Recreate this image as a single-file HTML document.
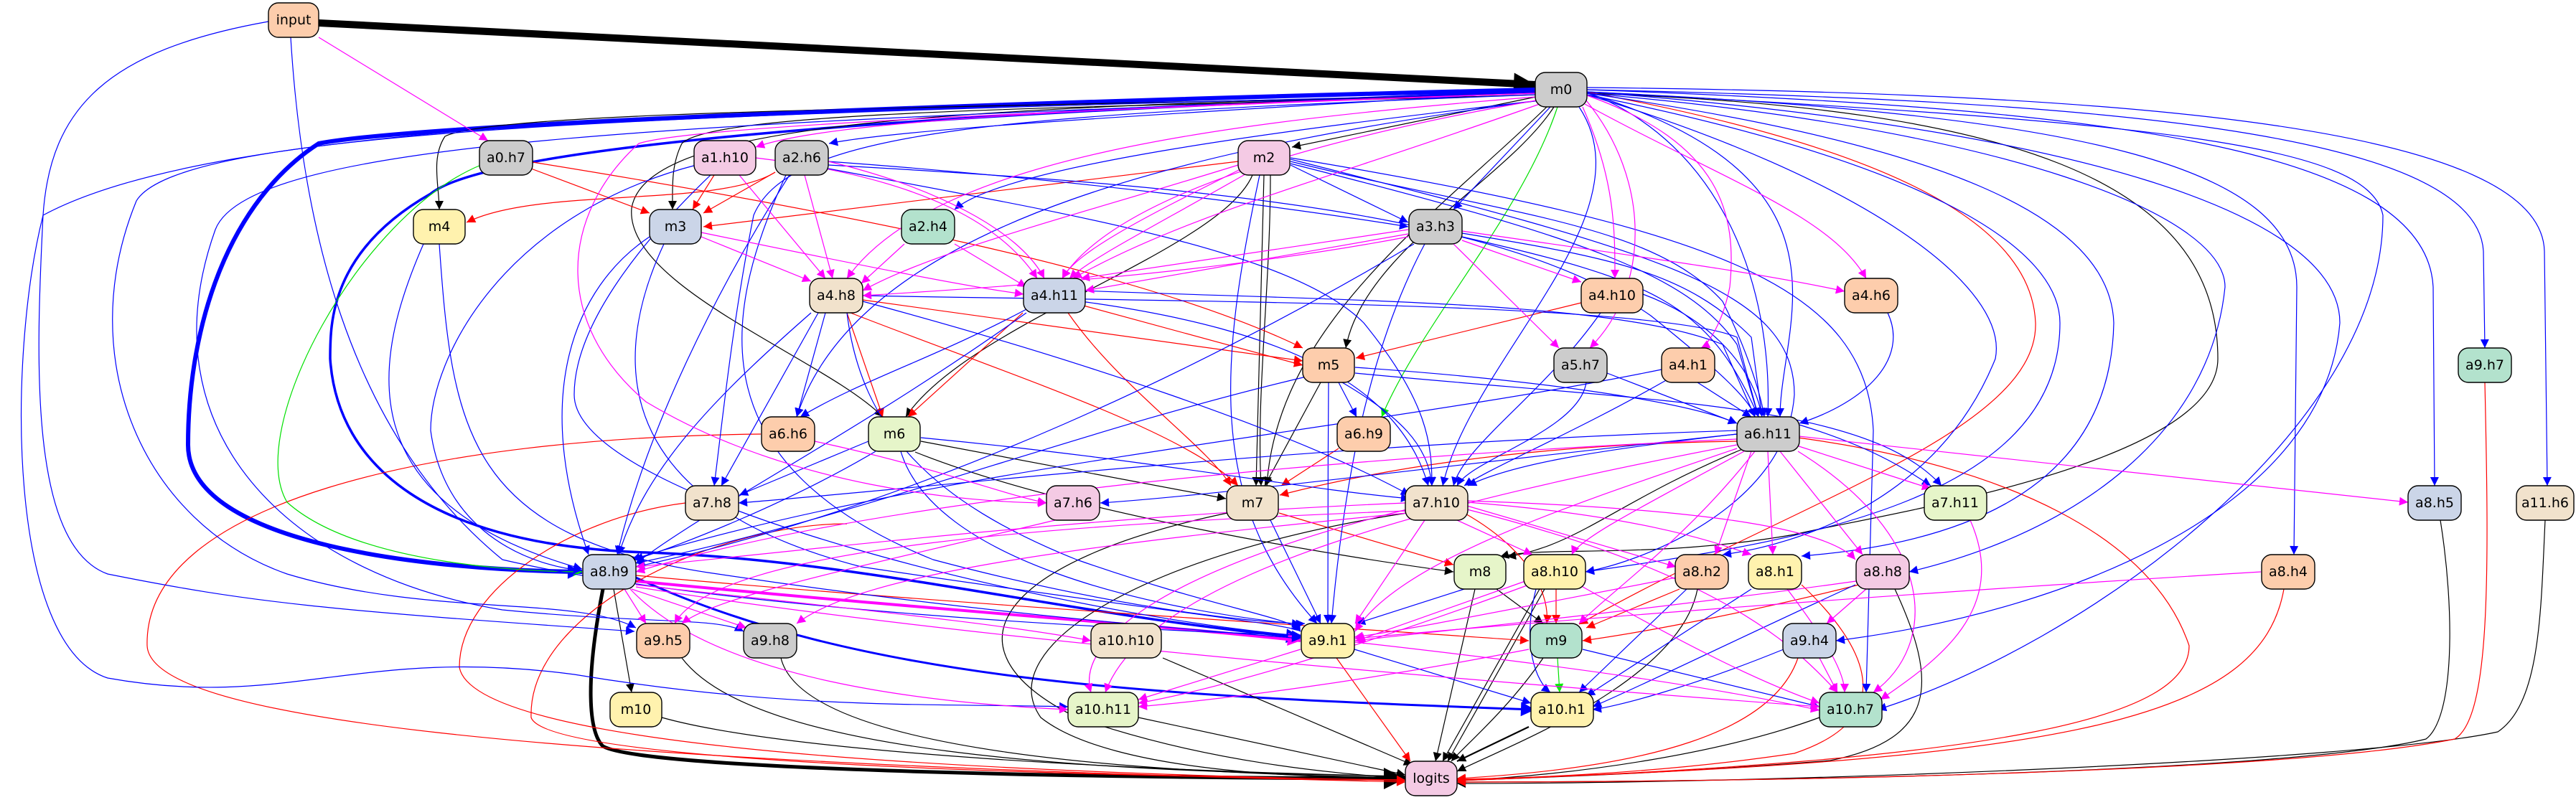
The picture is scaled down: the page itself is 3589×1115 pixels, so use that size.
<!DOCTYPE html>
<html><head><meta charset="utf-8"><style>
html,body{margin:0;padding:0;background:#fff;}
svg{display:block;}
text{font-family:"DejaVu Sans","Liberation Sans",sans-serif;font-size:19px;fill:#000;text-anchor:middle;dominant-baseline:central;}
.n{stroke:#000;stroke-width:1.4;}
path{fill:none;stroke-width:1.2;}
.k{stroke:#000;marker-end:url(#ak);}
.b{stroke:#0000ff;marker-end:url(#ab);}
.r{stroke:#ff0000;marker-end:url(#ar);}
.m{stroke:#ff00ff;marker-end:url(#am);}
.g{stroke:#00e000;marker-end:url(#ag);}
</style></head><body>
<svg width="3589" height="1115" viewBox="0 0 3589 1115" xmlns="http://www.w3.org/2000/svg">
<defs>
<marker id="ak" markerUnits="userSpaceOnUse" markerWidth="16" markerHeight="12" viewBox="0 0 10 10" refX="10" refY="5" orient="auto"><path d="M0,0L10,5L0,10z" style="fill:#000;stroke:none"/></marker>
<marker id="ab" markerUnits="userSpaceOnUse" markerWidth="16" markerHeight="12" viewBox="0 0 10 10" refX="10" refY="5" orient="auto"><path d="M0,0L10,5L0,10z" style="fill:#00f;stroke:none"/></marker>
<marker id="ar" markerUnits="userSpaceOnUse" markerWidth="16" markerHeight="12" viewBox="0 0 10 10" refX="10" refY="5" orient="auto"><path d="M0,0L10,5L0,10z" style="fill:#f00;stroke:none"/></marker>
<marker id="am" markerUnits="userSpaceOnUse" markerWidth="16" markerHeight="12" viewBox="0 0 10 10" refX="10" refY="5" orient="auto"><path d="M0,0L10,5L0,10z" style="fill:#f0f;stroke:none"/></marker>
<marker id="ag" markerUnits="userSpaceOnUse" markerWidth="16" markerHeight="12" viewBox="0 0 10 10" refX="10" refY="5" orient="auto"><path d="M0,0L10,5L0,10z" style="fill:#0e0;stroke:none"/></marker>
<marker id="akB" markerUnits="userSpaceOnUse" markerWidth="34" markerHeight="30" viewBox="0 0 10 10" refX="10" refY="5" orient="auto"><path d="M0,0L10,5L0,10z" style="fill:#000;stroke:none"/></marker>
<marker id="abB" markerUnits="userSpaceOnUse" markerWidth="24" markerHeight="20" viewBox="0 0 10 10" refX="10" refY="5" orient="auto"><path d="M0,0L10,5L0,10z" style="fill:#00f;stroke:none"/></marker>
<marker id="amB" markerUnits="userSpaceOnUse" markerWidth="22" markerHeight="18" viewBox="0 0 10 10" refX="10" refY="5" orient="auto"><path d="M0,0L10,5L0,10z" style="fill:#f0f;stroke:none"/></marker>
</defs>

<!-- thick edges -->
<path d="M444,32 L2139,118" style="stroke:#000;stroke-width:10;marker-end:url(#akB)"/>
<path d="M2139,125 C1500,140 600,170 444,200 C320,280 262,450 262,620 C262,760 600,795 811,797" style="stroke:#00f;stroke-width:6;marker-end:url(#abB)"/>
<path d="M2139,128 C1500,150 700,190 600,270 C460,350 460,450 460,500 C470,650 600,760 900,770 C1200,780 1500,860 1812,888" style="stroke:#00f;stroke-width:3.5;marker-end:url(#abB)"/>
<path d="M840,821 C815,950 820,1020 840,1040 C900,1075 1600,1085 1958,1085" style="stroke:#000;stroke-width:5;marker-end:url(#akB)"/>
<path d="M886,805 C1200,950 1600,970 2139,989" style="stroke:#00f;stroke-width:3;marker-end:url(#abB)"/>
<path d="M886,810 C1300,850 1600,870 1812,893" style="stroke:#f0f;stroke-width:4;marker-end:url(#amB)"/>
<path class="k" d="M2130,1013 L2030,1061" style="stroke-width:2.2"/>

<!-- black -->
<path class="k" d="M2140,135 L1800,205"/>
<path class="k" d="M2140,130 C1500,150 700,150 620,190 C600,220 612,260 612,292"/>
<path class="k" d="M2140,132 C1600,150 1000,150 950,200 C935,230 937,260 937,292"/>
<path class="k" d="M2165,149 C2100,250 1900,350 1875,485"/>
<path class="k" d="M2140,130 C1300,150 900,170 880,290 C870,400 1150,500 1230,581"/>
<path class="k" d="M2155,149 C2000,300 1780,450 1765,677"/>
<path class="k" d="M2210,130 C2800,150 3090,250 3090,500 C3090,650 2600,720 2500,745 C2300,780 2150,760 2090,776"/>
<path class="k" d="M1745,244 C1700,350 1350,450 1262,581"/>
<path class="k" d="M1761,244 L1750,677"/>
<path class="k" d="M1770,244 C1770,400 1750,550 1757,677"/>
<path class="k" d="M1840,533 L1762,677"/>
<path class="k" d="M1283,615 L1708,695"/>
<path class="k" d="M1275,630 C1500,720 1900,780 2025,797"/>
<path class="k" d="M1710,715 C1400,780 1300,900 1500,1000 C1700,1070 1900,1080 1958,1085"/>
<path class="k" d="M1960,715 C1600,770 1380,900 1450,1000 C1550,1080 1850,1085 1958,1083"/>
<path class="k" d="M2055,821 L2000,1061"/>
<path class="k" d="M2085,821 L2150,869"/>
<path class="k" d="M2145,821 L2010,1061"/>
<path class="k" d="M2152,821 L2017,1061"/>
<path class="k" d="M2365,821 C2340,950 2100,1040 2030,1075"/>
<path class="k" d="M2150,917 C2100,990 2040,1040 2022,1061"/>
<path class="k" d="M1620,917 L1968,1066"/>
<path class="k" d="M1586,1000 L1958,1080"/>
<path class="k" d="M2640,821 C2700,950 2700,1030 2550,1060 C2300,1080 2100,1085 2030,1088"/>
<path class="k" d="M2535,1000 C2400,1050 2200,1080 2030,1088"/>
<path class="k" d="M3400,725 C3420,850 3420,1000 3380,1030 C3200,1075 2500,1090 2030,1090"/>
<path class="k" d="M3546,725 C3540,850 3540,980 3480,1020 C3300,1060 2500,1092 2030,1092"/>
<path class="k" d="M922,1000 C1100,1050 1600,1075 1958,1082"/>
<path class="k" d="M950,917 C1050,1050 1500,1075 1958,1082"/>
<path class="k" d="M1088,917 C1120,1050 1600,1078 1958,1084"/>
<path class="k" d="M855,821 L880,965"/>
<path class="k" d="M2430,625 C2250,700 2200,760 2100,776"/>

<!-- red -->
<path class="r" d="M740,235 L905,297"/>
<path class="r" d="M742,226 C1200,300 1600,380 1815,485"/>
<path class="r" d="M995,244 L965,292"/>
<path class="r" d="M1080,240 L980,297"/>
<path class="r" d="M1080,240 C1000,290 750,260 650,310"/>
<path class="r" d="M1725,225 L980,316"/>
<path class="r" d="M1202,418 L1815,503"/>
<path class="r" d="M1506,425 L1815,509"/>
<path class="r" d="M2203,422 L1889,499"/>
<path class="r" d="M1180,436 L1230,581"/>
<path class="r" d="M1425,436 L1265,581"/>
<path class="r" d="M1185,436 C1400,520 1650,600 1725,677"/>
<path class="r" d="M1488,436 C1560,540 1680,620 1715,677"/>
<path class="r" d="M1865,625 L1785,677"/>
<path class="r" d="M2420,615 C2100,620 1900,660 1783,690"/>
<path class="r" d="M1782,715 L2025,787"/>
<path class="r" d="M1060,605 C600,610 200,700 205,900 C210,1000 700,1060 1958,1090"/>
<path class="r" d="M955,701 C800,720 640,820 640,930 C660,1040 1300,1075 1958,1088"/>
<path class="r" d="M1180,730 C1000,730 735,850 740,1000 C760,1060 1400,1080 1958,1087"/>
<path class="r" d="M1862,917 L1965,1061"/>
<path class="r" d="M886,802 C1300,840 1800,870 2130,893"/>
<path class="r" d="M2040,715 C2120,760 2160,820 2155,869"/>
<path class="r" d="M2168,821 L2168,869"/>
<path class="r" d="M2340,821 L2210,875"/>
<path class="r" d="M2590,815 C2450,850 2300,880 2205,893"/>
<path class="r" d="M2505,610 C2800,650 3000,750 3050,900 C3050,1000 2800,1060 2030,1088"/>
<path class="r" d="M2510,815 C2600,900 2650,1000 2500,1050 C2300,1080 2100,1085 2030,1086"/>
<path class="r" d="M3182,821 C3150,1000 2900,1060 2030,1087"/>
<path class="r" d="M3462,533 C3468,800 3470,1000 3420,1030 C3200,1075 2500,1090 2030,1090"/>
<path class="r" d="M2505,917 C2470,1020 2300,1070 2030,1085"/>
<path class="r" d="M2210,128 C2600,200 2830,300 2836,450 C2840,600 2500,700 2200,870"/>

<!-- green -->
<path class="g" d="M670,230 C500,300 340,600 400,700 C500,790 750,797 811,797"/>
<path class="g" d="M2170,149 C2120,300 1980,450 1925,581"/>
<path class="g" d="M2170,917 L2173,965"/>

<!-- blue -->
<path class="b" d="M374,30 C150,70 70,150 60,300 C50,500 40,760 150,800 C350,840 450,850 884,880"/>
<path class="b" d="M405,52 C420,300 480,600 700,780 C1000,850 1600,880 1812,885"/>
<path class="b" d="M2140,128 C1000,150 300,170 60,300 C10,500 10,900 150,945 C400,990 500,900 800,940 C1100,990 1300,980 1488,985"/>
<path class="b" d="M2140,130 C900,160 250,180 190,280 C100,500 200,730 400,800 C600,860 800,830 886,875"/>
<path class="b" d="M2140,130 C1000,170 350,190 300,320 C200,600 400,800 700,850 C900,870 1000,860 1036,880"/>
<path class="b" d="M2140,132 C1400,160 1100,180 1050,300 C1020,450 1005,600 995,677"/>
<path class="b" d="M2145,140 C1700,200 1200,300 1110,581"/>
<path class="b" d="M2140,128 C1600,160 1250,180 1155,200"/>
<path class="b" d="M2145,140 C1800,180 1400,230 1330,292"/>
<path class="b" d="M2160,149 L2025,292"/>
<path class="b" d="M2210,128 C2400,200 2470,400 2463,581"/>
<path class="b" d="M2212,130 C2600,250 2480,450 2480,581"/>
<path class="b" d="M2200,149 C2300,300 2050,500 2010,677"/>
<path class="b" d="M2211,125 C2900,150 3380,200 3390,400 L3392,677"/>
<path class="b" d="M2211,125 C2900,140 3450,180 3460,350 L3462,485"/>
<path class="b" d="M2211,122 C3000,130 3540,180 3545,350 L3549,677"/>
<path class="b" d="M2211,128 C2900,160 3200,230 3200,400 L3196,773"/>
<path class="b" d="M2211,128 C3000,170 3300,200 3320,300 C3320,600 2900,900 2616,989"/>
<path class="b" d="M2211,128 C2900,180 3260,300 3260,450 C3240,700 2900,850 2558,893"/>
<path class="b" d="M2211,130 C2800,180 3100,300 3100,400 C3080,600 2900,740 2660,797"/>
<path class="b" d="M2211,130 C2700,200 2940,300 2945,450 C2940,700 2700,760 2510,775"/>
<path class="b" d="M2211,132 C2700,230 2870,350 2870,450 C2870,700 2500,755 2209,797"/>
<path class="b" d="M2211,132 C2600,250 2800,400 2780,500 C2700,700 2500,760 2400,773"/>
<path class="b" d="M1888,520 C2300,560 2600,560 2705,677"/>
<path class="b" d="M970,230 C700,300 600,500 600,600 C620,750 750,790 811,795"/>
<path class="b" d="M990,244 C900,330 800,450 800,550 C800,700 1500,860 1812,886"/>
<path class="b" d="M1100,244 C1000,400 900,600 860,773"/>
<path class="b" d="M1095,244 C1000,450 980,650 1300,780 C1600,860 1800,870 1818,869"/>
<path class="b" d="M1154,225 C1500,250 1800,290 1962,316"/>
<path class="b" d="M1154,230 C1700,260 2100,300 2300,440 C2400,520 2440,560 2445,581"/>
<path class="b" d="M1154,235 C1500,300 1800,350 1900,450 C1990,560 1995,620 1995,677"/>
<path class="b" d="M1798,230 L1962,310"/>
<path class="b" d="M1798,225 C2100,300 2300,310 2400,420 C2440,500 2455,560 2458,581"/>
<path class="b" d="M1798,228 C2200,330 2350,380 2420,480 L2450,581"/>
<path class="b" d="M1798,222 C2300,350 2500,400 2500,550 C2490,700 2300,780 2209,797"/>
<path class="b" d="M1798,220 C2400,320 2600,400 2610,600 L2600,965"/>
<path class="b" d="M1755,244 C1700,500 1680,700 1835,869"/>
<path class="b" d="M590,340 C520,500 480,700 811,793"/>
<path class="b" d="M612,340 C630,600 650,750 1000,800 C1400,860 1700,880 1812,890"/>
<path class="b" d="M905,330 C800,400 740,550 820,773"/>
<path class="b" d="M925,340 C850,500 850,700 1200,790 C1600,850 1800,870 1812,880"/>
<path class="b" d="M2037,325 C2250,360 2350,380 2440,470 L2455,581"/>
<path class="b" d="M2037,330 C2300,390 2380,420 2450,581"/>
<path class="b" d="M1970,340 C1700,500 1300,700 886,790"/>
<path class="b" d="M1985,340 C1900,500 1870,700 1855,869"/>
<path class="b" d="M1150,436 L1110,581"/>
<path class="b" d="M1140,436 L1005,677"/>
<path class="b" d="M1130,436 C1000,550 900,650 862,773"/>
<path class="b" d="M1202,412 C1600,420 2300,420 2420,470 L2450,581"/>
<path class="b" d="M1202,420 C1500,500 1800,600 1964,690"/>
<path class="b" d="M1180,436 C1200,600 1300,700 1500,780 C1700,850 1800,860 1812,880"/>
<path class="b" d="M1432,430 C1300,500 1200,530 1115,581"/>
<path class="b" d="M1506,405 C1900,420 2250,420 2400,480 L2445,581"/>
<path class="b" d="M1430,436 C1200,600 1000,700 886,785"/>
<path class="b" d="M1506,420 C1800,460 1950,540 1990,677"/>
<path class="b" d="M2289,410 C2370,440 2440,500 2455,581"/>
<path class="b" d="M2230,436 C2150,550 2040,620 2025,677"/>
<path class="b" d="M2630,436 C2660,500 2600,560 2507,590"/>
<path class="b" d="M1865,533 L1890,581"/>
<path class="b" d="M1888,512 C2150,530 2350,560 2420,590"/>
<path class="b" d="M1870,533 C1950,580 1990,620 1995,677"/>
<path class="b" d="M1851,533 C1850,650 1850,800 1850,869"/>
<path class="b" d="M1820,525 C1500,600 1200,720 886,785"/>
<path class="b" d="M2239,520 L2420,590"/>
<path class="b" d="M2210,533 C2200,600 2050,640 2030,677"/>
<path class="b" d="M2365,533 L2440,581"/>
<path class="b" d="M2330,525 C2200,600 2080,650 2040,677"/>
<path class="b" d="M2315,515 C1900,600 1300,650 880,780"/>
<path class="b" d="M1210,615 L1030,690"/>
<path class="b" d="M1283,610 C1600,640 1800,680 1964,695"/>
<path class="b" d="M1220,629 C1100,700 950,760 884,780"/>
<path class="b" d="M1255,629 C1300,780 1600,850 1812,870"/>
<path class="b" d="M2420,605 C2200,630 2100,650 2045,677"/>
<path class="b" d="M2500,590 C2600,620 2650,650 2690,677"/>
<path class="b" d="M2420,605 C2000,650 1700,690 1533,701"/>
<path class="b" d="M2420,600 C1800,620 1300,680 1029,701"/>
<path class="b" d="M1770,725 L1840,869"/>
<path class="b" d="M2040,821 L1890,869"/>
<path class="b" d="M2140,821 C2120,900 2140,950 2160,965"/>
<path class="b" d="M2350,821 L2200,965"/>
<path class="b" d="M2440,821 L2210,970"/>
<path class="b" d="M2585,815 C2400,900 2300,950 2219,985"/>
<path class="b" d="M1887,905 L2133,980"/>
<path class="b" d="M2205,905 L2535,985"/>
<path class="b" d="M2485,905 C2350,960 2250,985 2219,989"/>

<!-- magenta -->
<path class="m" d="M444,52 L680,196"/>
<path class="m" d="M2140,130 C1500,150 1150,170 1053,205"/>
<path class="m" d="M2140,130 C1300,160 950,180 890,200 C780,300 770,450 900,560 C1100,680 1350,700 1458,701"/>
<path class="m" d="M2140,135 C1700,170 1300,220 1180,388"/>
<path class="m" d="M2140,140 C1800,200 1550,280 1480,388"/>
<path class="m" d="M2145,145 C1850,250 1650,300 1495,388"/>
<path class="m" d="M2205,149 C2250,250 2250,320 2250,388"/>
<path class="m" d="M2208,145 C2400,250 2550,300 2600,388"/>
<path class="m" d="M2210,140 C2300,250 2300,400 2215,485"/>
<path class="m" d="M2211,133 C2400,200 2420,300 2410,400 C2400,450 2380,480 2370,485"/>
<path class="m" d="M1030,244 L1150,388"/>
<path class="m" d="M1053,220 C1300,250 1400,320 1445,388"/>
<path class="m" d="M1121,244 L1160,388"/>
<path class="m" d="M1154,225 C1300,260 1420,320 1455,388"/>
<path class="m" d="M1725,230 C1500,300 1300,350 1202,405"/>
<path class="m" d="M1730,235 C1600,300 1500,350 1480,388"/>
<path class="m" d="M1740,240 C1600,320 1520,360 1490,388"/>
<path class="m" d="M977,330 L1130,392"/>
<path class="m" d="M977,324 C1200,370 1350,400 1426,410"/>
<path class="m" d="M1260,340 L1200,395"/>
<path class="m" d="M1330,340 L1430,400"/>
<path class="m" d="M1962,330 C1700,380 1400,400 1202,412"/>
<path class="m" d="M1962,320 L1506,388"/>
<path class="m" d="M1962,326 L1512,405"/>
<path class="m" d="M2037,335 L2203,393"/>
<path class="m" d="M2037,322 C2300,360 2450,380 2570,406"/>
<path class="m" d="M2025,340 L2172,485"/>
<path class="m" d="M1135,615 C1300,650 1400,690 1458,701"/>
<path class="m" d="M2500,620 L2690,681"/>
<path class="m" d="M2506,608 L3355,700"/>
<path class="m" d="M2463,629 L2470,773"/>
<path class="m" d="M2480,629 L2595,773"/>
<path class="m" d="M2440,629 L2390,773"/>
<path class="m" d="M2430,629 C2300,700 2200,750 2190,773"/>
<path class="m" d="M2420,625 C2200,700 1950,780 1888,880"/>
<path class="m" d="M2445,629 C2350,750 2250,820 2200,869"/>
<path class="m" d="M2505,629 C2700,750 2700,900 2610,965"/>
<path class="m" d="M2420,620 C2000,700 1600,800 1540,965"/>
<path class="m" d="M2420,612 C1800,640 1200,700 886,797"/>
<path class="m" d="M2030,725 L2135,773"/>
<path class="m" d="M2044,705 L2335,790"/>
<path class="m" d="M2044,700 C2300,720 2400,760 2440,773"/>
<path class="m" d="M2044,698 C2400,710 2550,740 2585,780"/>
<path class="m" d="M1985,725 L1888,869"/>
<path class="m" d="M1960,710 C1600,800 1500,900 1520,965"/>
<path class="m" d="M2044,710 C2400,800 2500,900 2560,965"/>
<path class="m" d="M1960,712 C1500,730 1000,760 940,869"/>
<path class="m" d="M1960,715 C1500,760 1200,800 1110,869"/>
<path class="m" d="M1958,701 C1500,720 1100,770 886,790"/>
<path class="m" d="M1470,725 C1200,790 1000,830 950,869"/>
<path class="m" d="M870,821 L900,869"/>
<path class="m" d="M880,821 L1040,875"/>
<path class="m" d="M886,815 C1200,850 1400,870 1520,893"/>
<path class="m" d="M878,821 C1000,950 1300,980 1488,989"/>
<path class="m" d="M886,818 C1400,900 2200,960 2535,985"/>
<path class="m" d="M2125,810 L1890,893"/>
<path class="m" d="M2130,815 C1900,900 1700,960 1586,980"/>
<path class="m" d="M2200,815 C2350,900 2450,950 2535,980"/>
<path class="m" d="M2335,805 C2100,850 1950,880 1887,888"/>
<path class="m" d="M2490,821 C2550,900 2570,940 2570,965"/>
<path class="m" d="M2600,821 L2545,869"/>
<path class="m" d="M2586,810 C2300,850 2000,880 1888,893"/>
<path class="m" d="M3150,797 C2600,830 2100,870 1888,890"/>
<path class="m" d="M1812,905 L1586,975"/>
<path class="m" d="M1888,895 C2200,930 2400,960 2535,990"/>
<path class="m" d="M2130,905 C1900,950 1700,975 1586,985"/>
<path class="m" d="M2535,917 L2560,965"/>
<path class="m" d="M2745,725 C2800,850 2700,920 2620,975"/>

<!-- nodes -->
<g>
<rect class="n" x="374" y="4" width="70" height="48" rx="14" fill="#fdcdac"/><text x="409" y="28">input</text>
<rect class="n" x="2139" y="101" width="72" height="48" rx="14" fill="#cccccc"/><text x="2175" y="125">m0</text>
<rect class="n" x="668" y="196" width="74" height="48" rx="14" fill="#cccccc"/><text x="705" y="220">a0.h7</text>
<rect class="n" x="967" y="196" width="86" height="48" rx="14" fill="#f4cae4"/><text x="1010" y="220">a1.h10</text>
<rect class="n" x="1080" y="196" width="74" height="48" rx="14" fill="#cccccc"/><text x="1117" y="220">a2.h6</text>
<rect class="n" x="1725" y="196" width="72" height="48" rx="14" fill="#f4cae4"/><text x="1761" y="220">m2</text>
<rect class="n" x="576" y="292" width="72" height="48" rx="14" fill="#fff2ae"/><text x="612" y="316">m4</text>
<rect class="n" x="905" y="292" width="72" height="48" rx="14" fill="#cbd5e8"/><text x="941" y="316">m3</text>
<rect class="n" x="1256" y="292" width="74" height="48" rx="14" fill="#b3e2cd"/><text x="1293" y="316">a2.h4</text>
<rect class="n" x="1963" y="292" width="74" height="48" rx="14" fill="#cccccc"/><text x="2000" y="316">a3.h3</text>
<rect class="n" x="1128" y="388" width="74" height="48" rx="14" fill="#f1e2cc"/><text x="1165" y="412">a4.h8</text>
<rect class="n" x="1426" y="388" width="86" height="48" rx="14" fill="#cbd5e8"/><text x="1469" y="412">a4.h11</text>
<rect class="n" x="2203" y="388" width="86" height="48" rx="14" fill="#fdcdac"/><text x="2246" y="412">a4.h10</text>
<rect class="n" x="2570" y="388" width="74" height="48" rx="14" fill="#fdcdac"/><text x="2607" y="412">a4.h6</text>
<rect class="n" x="1815" y="485" width="72" height="48" rx="14" fill="#fdcdac"/><text x="1851" y="509">m5</text>
<rect class="n" x="2165" y="485" width="74" height="48" rx="14" fill="#cccccc"/><text x="2202" y="509">a5.h7</text>
<rect class="n" x="2315" y="485" width="74" height="48" rx="14" fill="#fdcdac"/><text x="2352" y="509">a4.h1</text>
<rect class="n" x="3425" y="485" width="74" height="48" rx="14" fill="#b3e2cd"/><text x="3462" y="509">a9.h7</text>
<rect class="n" x="1061" y="581" width="74" height="48" rx="14" fill="#fdcdac"/><text x="1098" y="605">a6.h6</text>
<rect class="n" x="1210" y="581" width="72" height="48" rx="14" fill="#e6f5c9"/><text x="1246" y="605">m6</text>
<rect class="n" x="1863" y="581" width="74" height="48" rx="14" fill="#fdcdac"/><text x="1900" y="605">a6.h9</text>
<rect class="n" x="2420" y="581" width="87" height="48" rx="14" fill="#cccccc"/><text x="2463" y="605">a6.h11</text>
<rect class="n" x="955" y="677" width="74" height="48" rx="14" fill="#f1e2cc"/><text x="992" y="701">a7.h8</text>
<rect class="n" x="1458" y="677" width="74" height="48" rx="14" fill="#f4cae4"/><text x="1495" y="701">a7.h6</text>
<rect class="n" x="1709" y="677" width="72" height="48" rx="14" fill="#f1e2cc"/><text x="1745" y="701">m7</text>
<rect class="n" x="1958" y="677" width="87" height="48" rx="14" fill="#f1e2cc"/><text x="2001" y="701">a7.h10</text>
<rect class="n" x="2681" y="677" width="87" height="48" rx="14" fill="#e6f5c9"/><text x="2724" y="701">a7.h11</text>
<rect class="n" x="3355" y="677" width="74" height="48" rx="14" fill="#cbd5e8"/><text x="3392" y="701">a8.h5</text>
<rect class="n" x="3506" y="677" width="86" height="48" rx="14" fill="#f1e2cc" style="width:80px"/><text x="3546" y="701">a11.h6</text>
<rect class="n" x="812" y="773" width="74" height="48" rx="14" fill="#cbd5e8"/><text x="849" y="797">a8.h9</text>
<rect class="n" x="2026" y="773" width="72" height="48" rx="14" fill="#e6f5c9"/><text x="2062" y="797">m8</text>
<rect class="n" x="2123" y="773" width="86" height="48" rx="14" fill="#fff2ae"/><text x="2166" y="797">a8.h10</text>
<rect class="n" x="2334" y="773" width="74" height="48" rx="14" fill="#fdcdac"/><text x="2371" y="797">a8.h2</text>
<rect class="n" x="2436" y="773" width="74" height="48" rx="14" fill="#fff2ae"/><text x="2473" y="797">a8.h1</text>
<rect class="n" x="2586" y="773" width="74" height="48" rx="14" fill="#f4cae4"/><text x="2623" y="797">a8.h8</text>
<rect class="n" x="3151" y="773" width="74" height="48" rx="14" fill="#fdcdac"/><text x="3188" y="797">a8.h4</text>
<rect class="n" x="887" y="869" width="74" height="48" rx="14" fill="#fdcdac"/><text x="924" y="893">a9.h5</text>
<rect class="n" x="1036" y="869" width="74" height="48" rx="14" fill="#cccccc"/><text x="1073" y="893">a9.h8</text>
<rect class="n" x="1520" y="869" width="98" height="48" rx="14" fill="#f1e2cc"/><text x="1569" y="893">a10.h10</text>
<rect class="n" x="1813" y="869" width="74" height="48" rx="14" fill="#fff2ae"/><text x="1850" y="893">a9.h1</text>
<rect class="n" x="2132" y="869" width="72" height="48" rx="14" fill="#b3e2cd"/><text x="2168" y="893">m9</text>
<rect class="n" x="2484" y="869" width="74" height="48" rx="14" fill="#cbd5e8"/><text x="2521" y="893">a9.h4</text>
<rect class="n" x="850" y="965" width="72" height="48" rx="14" fill="#fff2ae"/><text x="886" y="989">m10</text>
<rect class="n" x="1488" y="965" width="98" height="48" rx="14" fill="#e6f5c9"/><text x="1537" y="989">a10.h11</text>
<rect class="n" x="2133" y="965" width="87" height="48" rx="14" fill="#fff2ae"/><text x="2176" y="989">a10.h1</text>
<rect class="n" x="2535" y="965" width="87" height="48" rx="14" fill="#b3e2cd"/><text x="2578" y="989">a10.h7</text>
<rect class="n" x="1958" y="1061" width="72" height="48" rx="14" fill="#f4cae4"/><text x="1994" y="1085">logits</text>
</g>
</svg>
</body></html>
